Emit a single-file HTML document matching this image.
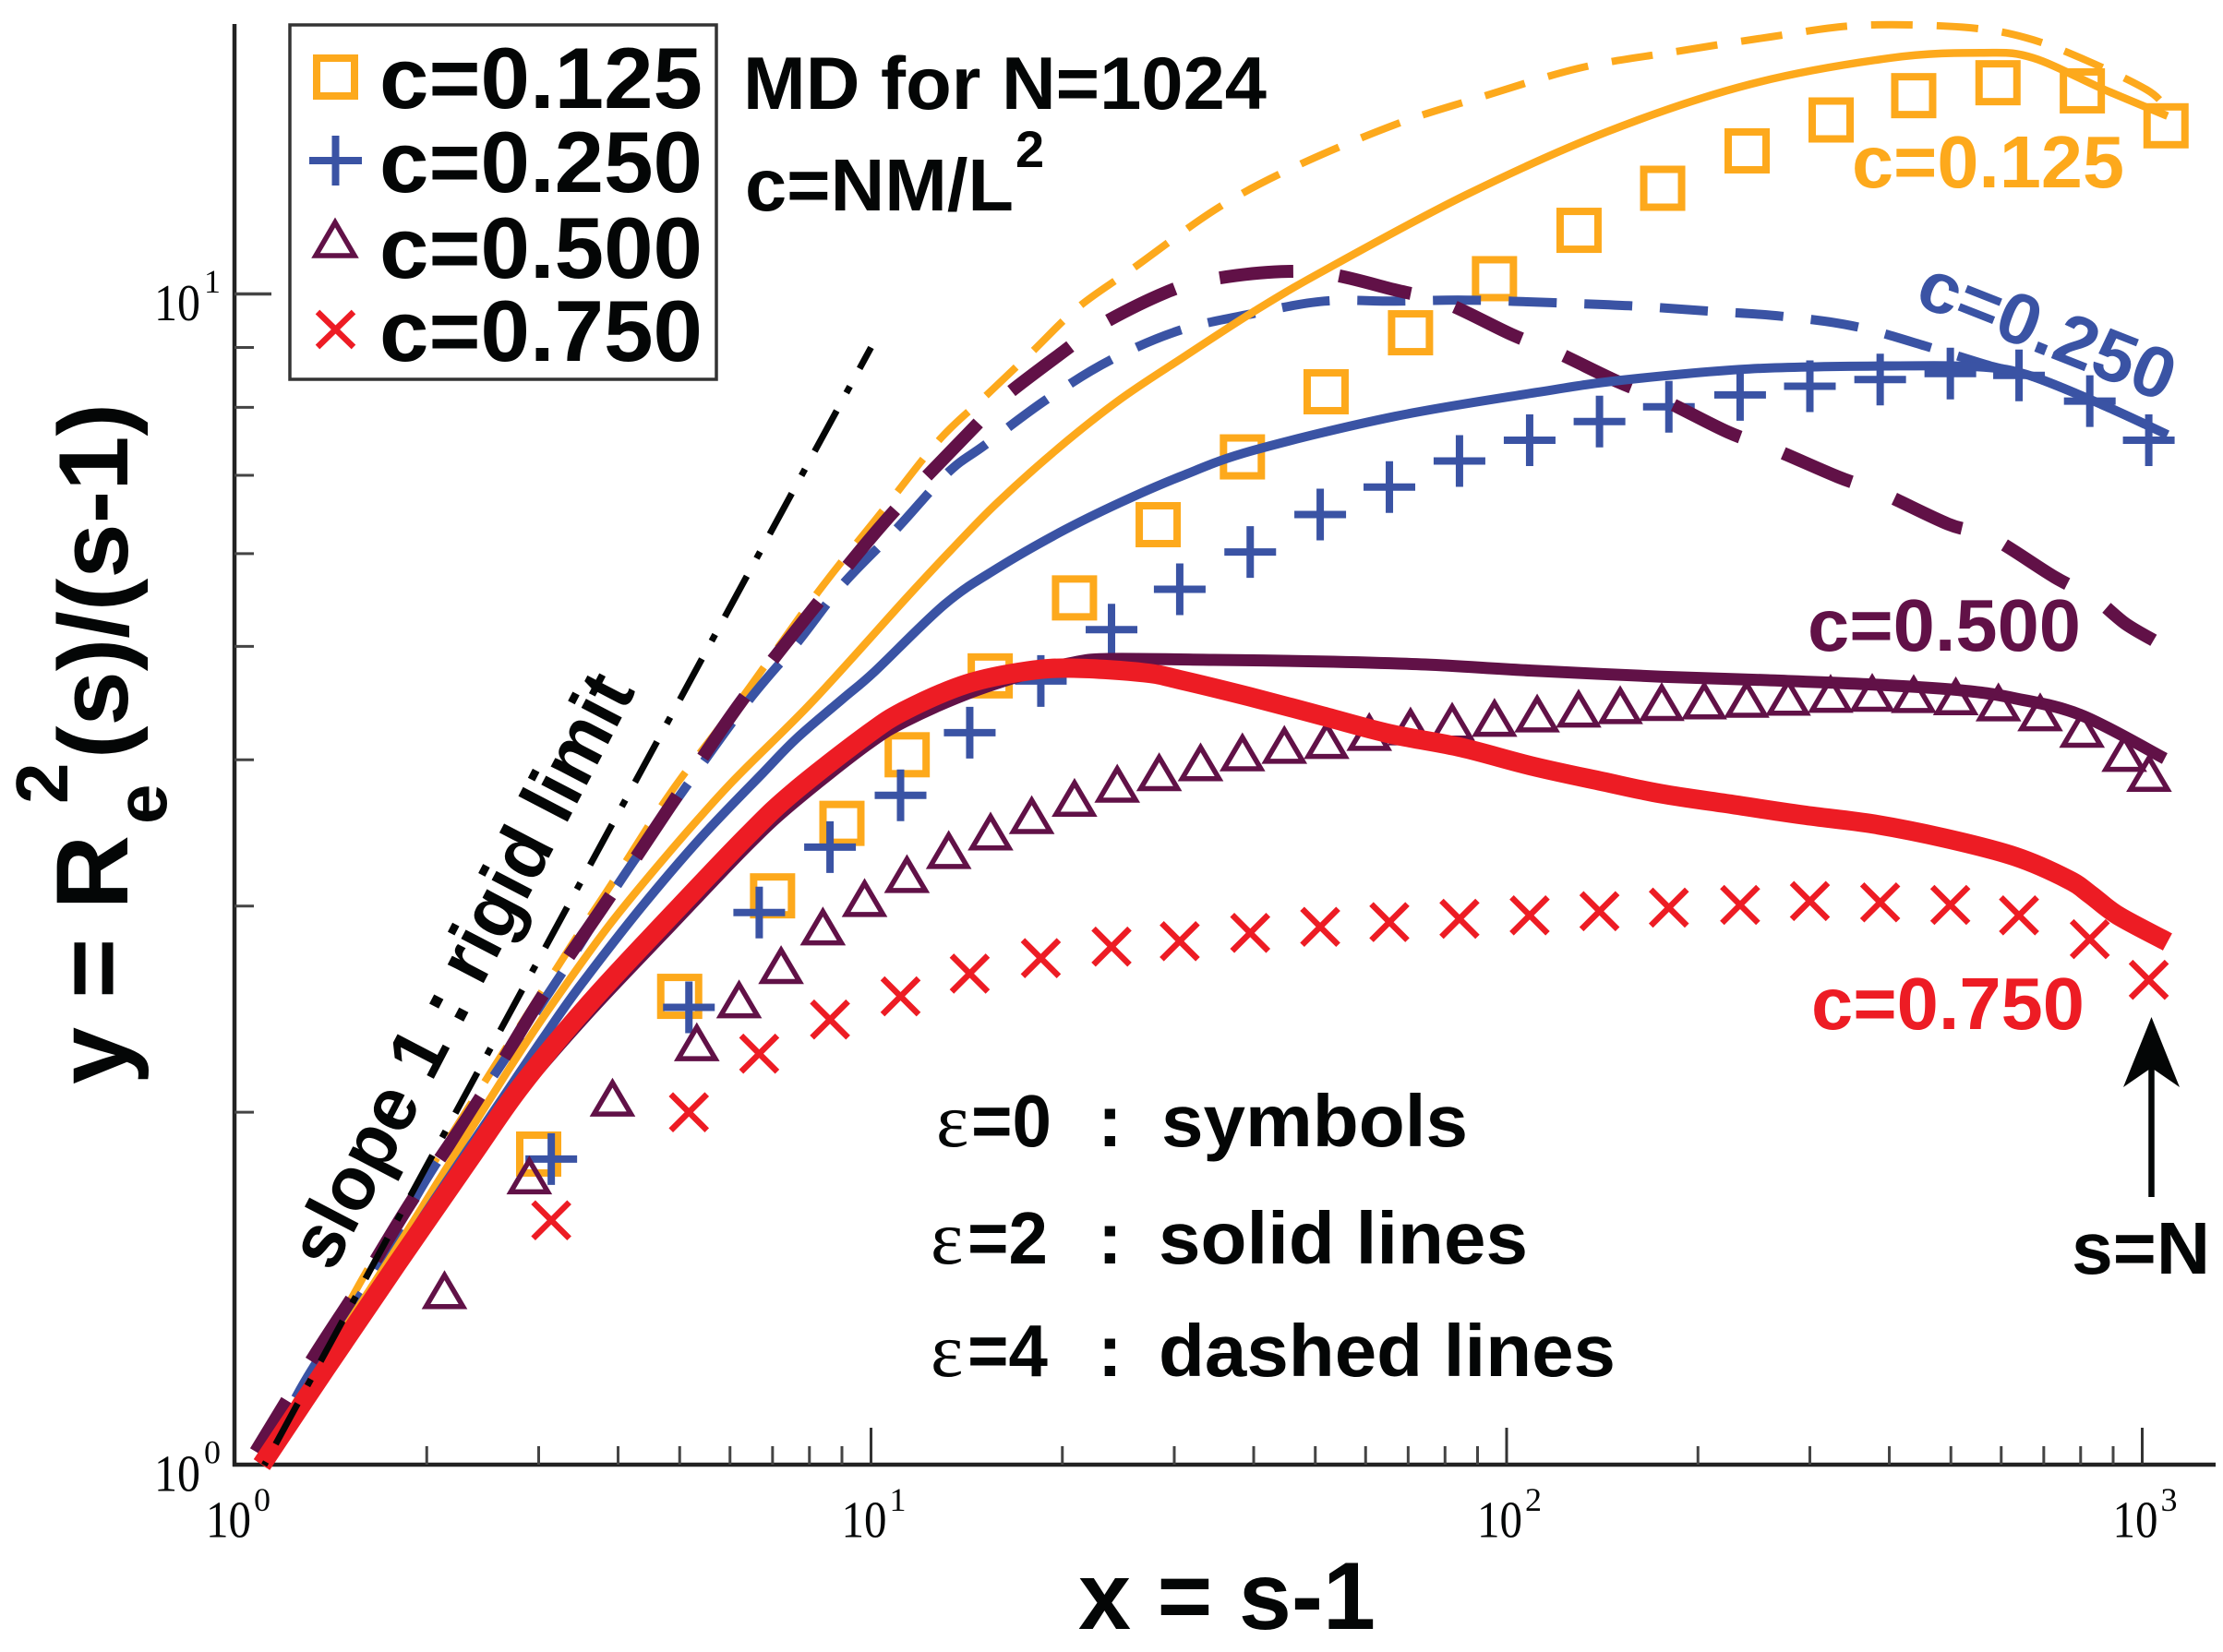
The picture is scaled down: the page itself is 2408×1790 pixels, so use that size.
<!DOCTYPE html>
<html lang="en">
<head>
<meta charset="utf-8">
<title>Re2(s)/(s-1) versus s-1</title>
<style>
html,body{margin:0;padding:0;background:#fff;width:2408px;height:1790px;overflow:hidden}
svg{display:block}
text{font-family:"Liberation Sans",sans-serif;font-weight:700;fill:#040606}
.serif{font-family:"Liberation Serif",serif;font-weight:400}
</style>
</head>
<body>
<svg id="chart" width="2408" height="1790" viewBox="0 0 2408 1790" xmlns="http://www.w3.org/2000/svg">
  <rect x="0" y="0" width="2408" height="1790" fill="#fff"/>
  <g id="axes"></g>
  <g id="markers"></g>
  <g id="lines"></g>

  <g>
    <rect x="314" y="27" width="462" height="384" fill="#fff" stroke="#333" stroke-width="3.5"/>
    <rect x="343" y="63" width="41" height="41" fill="none" stroke="#FDA91C" stroke-width="8"/>
    <path d="M335 174H392M363.500 147V201" fill="none" stroke="#3A53A4" stroke-width="8"/>
    <path d="M363 241L384 277H342Z" fill="none" stroke="#611147" stroke-width="5.500"/>
    <path d="M344 338L383 376M383 338L344 376" fill="none" stroke="#ED1C24" stroke-width="6.500"/>
    <text x="411" y="117" font-size="94" textLength="350" lengthAdjust="spacingAndGlyphs">c=0.125</text>
    <text x="411" y="208" font-size="94" textLength="350" lengthAdjust="spacingAndGlyphs">c=0.250</text>
    <text x="411" y="301" font-size="94" textLength="350" lengthAdjust="spacingAndGlyphs">c=0.500</text>
    <text x="411" y="391" font-size="94" textLength="350" lengthAdjust="spacingAndGlyphs">c=0.750</text>
  </g>

  <text x="805" y="118" font-size="81" textLength="567" lengthAdjust="spacingAndGlyphs">MD for N=1024</text>
  <text x="807" y="228" font-size="80" textLength="291" lengthAdjust="spacingAndGlyphs">c=NM/L</text>
  <text x="1100" y="181" font-size="56">2</text>

  <text x="2006" y="203" font-size="80" textLength="295" lengthAdjust="spacingAndGlyphs" style="fill:#FDA91C">c=0.125</text>
  <text font-size="78" textLength="292" lengthAdjust="spacingAndGlyphs" transform="translate(2072 329) rotate(21.5)" style="fill:#3A53A4">c=0.250</text>
  <text x="1958" y="705" font-size="80" textLength="296" lengthAdjust="spacingAndGlyphs" style="fill:#611147">c=0.500</text>
  <text x="1962" y="1115" font-size="80" textLength="296" lengthAdjust="spacingAndGlyphs" style="fill:#ED1C24">c=0.750</text>

  <text font-size="83" textLength="712" lengthAdjust="spacingAndGlyphs" transform="translate(360 1380) rotate(-62.5)">slope 1 : rigid limit</text>

  <g>
    <text class="serif" x="1014" y="1242" font-size="84">ε</text>
    <text x="1052" y="1242" font-size="80" textLength="87" lengthAdjust="spacingAndGlyphs">=0</text>
    <text x="1189" y="1242" font-size="80">:</text>
    <text x="1258" y="1242" font-size="80" textLength="332" lengthAdjust="spacingAndGlyphs">symbols</text>
    <text class="serif" x="1008" y="1369" font-size="84">ε</text>
    <text x="1048" y="1369" font-size="80" textLength="87" lengthAdjust="spacingAndGlyphs">=2</text>
    <text x="1189" y="1369" font-size="80">:</text>
    <text x="1255" y="1369" font-size="80" textLength="400" lengthAdjust="spacingAndGlyphs">solid lines</text>
    <text class="serif" x="1008" y="1491" font-size="84">ε</text>
    <text x="1048" y="1491" font-size="80" textLength="87" lengthAdjust="spacingAndGlyphs">=4</text>
    <text x="1189" y="1491" font-size="80">:</text>
    <text x="1255" y="1491" font-size="80" textLength="495" lengthAdjust="spacingAndGlyphs">dashed lines</text>
  </g>

  <g>
    <line x1="2330.500" y1="1297" x2="2330.500" y2="1150" stroke="#040606" stroke-width="6.500"/>
    <path d="M2330.500 1102L2361 1178L2330.500 1157L2300 1178Z" fill="#040606"/>
  </g>
  <text x="2244" y="1380" font-size="80" textLength="150" lengthAdjust="spacingAndGlyphs">s=N</text>

  <text x="1168" y="1765" font-size="104" textLength="322" lengthAdjust="spacingAndGlyphs">x = s-1</text>
  <g>
    <text font-size="110" textLength="270" lengthAdjust="spacingAndGlyphs" transform="translate(138 1175) rotate(-90)">y = R</text>
    <text font-size="78" transform="translate(180 893) rotate(-90)">e</text>
    <text font-size="80" transform="translate(73 871) rotate(-90)">2</text>
    <text font-size="107" textLength="385" lengthAdjust="spacingAndGlyphs" transform="translate(138 822) rotate(-90)">(s)/(s-1)</text>
  </g>
</svg>

<script>
// ---- axis ticks ----
var xMajorTicks = [1, 10, 100, 1000];
var xMinorTicks = [2,3,4,5,6,7,8,9,20,30,40,50,60,70,80,90,200,300,400,500,600,700,800,900];
var yMajorTicks = [1, 10];
var yMinorTicks = [2,3,4,5,6,7,8,9];
var xTickExponents = ['0','1','2','3'];
var yTickExponents = ['0','1'];

// ---- epsilon = 0 : symbols ----
var c125SymbolS = [3,5,7,9,11.4,15.4,20.9,28.3,38.4,52,70.6,95.7,130,176,239,324,437,593,805,1090];
var c125SymbolY = [1.842,2.512,3.061,3.53,4.04,4.718,5.5,6.352,7.258,8.25,9.265,10.305,11.333,12.31,13.25,14.08,14.77,15.15,14.91,13.92];

var c250SymbolS = [3.14,5.17,6.67,8.62,11.13,14.3,18.5,23.9,30.6,39.5,50.9,65.4,84.3,108.7,140,180,233,300,387,499,640,827,1024];
var c250SymbolY = [1.824,2.458,2.962,3.369,3.73,4.219,4.671,5.167,5.594,6.02,6.48,6.84,7.2,7.5,7.78,8.01,8.2,8.34,8.45,8.55,8.52,8.1,7.5];

var c500SymbolS = [2.133,2.9,3.92,5.32,6.2,7.22,8.4,9.77,11.39,13.25,15.42,17.9,20.9,24.4,28.4,33,38.4,44.7,52.1,60.8,70.6,82.1,95.7,111.7,129.8,150.9,175.4,204.6,238.6,277.3,323.4,376,437,509,594,691,804,937,1025];
var c500SymbolY = [1.41,1.767,2.059,2.296,2.498,2.672,2.883,3.049,3.196,3.351,3.475,3.589,3.713,3.818,3.905,3.982,4.061,4.121,4.16,4.227,4.273,4.313,4.346,4.383,4.425,4.456,4.483,4.497,4.511,4.53,4.556,4.565,4.554,4.534,4.48,4.393,4.253,4.056,3.9];

var c750SymbolS = [3.14,5.17,6.67,8.62,11.13,14.3,18.5,23.9,30.6,39.5,50.9,65.4,84.3,108.7,140,180,233,300,387,499,640,827,1024];
var c750SymbolY = [1.617,2,2.244,2.4,2.512,2.627,2.708,2.77,2.8,2.846,2.88,2.907,2.926,2.946,2.97,2.991,3.007,3.03,3.022,3.007,2.946,2.811,2.595];

// ---- epsilon = 2 : solid lines ----
var c125SolidS = [1.109,1.388,1.795,2.1,2.656,3.1,3.87,4.85,6.05,8.09,11.3,13.35,15.79,19.75,24.6,30.8,39.9,51.6,86.3,144,241,403,563,673,871,1096];
var c125SolidY = [1.004,1.232,1.532,1.756,2.151,2.442,2.887,3.35,3.831,4.486,5.48,6.04,6.63,7.39,8.12,8.81,9.65,10.47,12.15,13.76,15.1,15.91,16.07,15.91,14.95,14.19];

var c250SolidS = [1.109,1.388,1.795,2.052,2.71,3.07,3.47,4.33,5.41,6.77,7.64,9.03,10.12,13.05,15.79,19.75,24.6,30.8,39.9,66.7,111.7,152,241,403,563,673,871,1096];
var c250SolidY = [1.003,1.219,1.504,1.681,2.105,2.326,2.556,2.983,3.436,3.902,4.173,4.511,4.755,5.429,5.828,6.25,6.63,6.99,7.35,7.86,8.24,8.44,8.63,8.68,8.66,8.5,8.03,7.58];

var c500SolidS = [1.1,1.388,1.795,2.37,2.82,3.62,4.83,6.4,7.56,9.82,11.3,14.14,17.63,20.84,23.6,34.6,50.9,74.5,109.4,175,257.6,378,520,631,803,1085];
var c500SolidY = [1,1.208,1.483,1.844,2.09,2.442,2.881,3.381,3.676,4.113,4.312,4.553,4.738,4.843,4.878,4.869,4.854,4.825,4.767,4.711,4.678,4.638,4.585,4.514,4.366,4.01];

var c750SolidS = [1.1,1.388,1.795,2.37,2.82,3.62,4.83,6.4,7.56,9.82,11.3,14.14,17.63,20.84,26.95,30.8,39.3,50.9,65.6,84.9,109.4,141.6,175,226.5,292.5,378,488,631,765,828,917,1096];
var c750SolidY = [1,1.208,1.483,1.844,2.109,2.483,2.939,3.449,3.756,4.196,4.407,4.644,4.764,4.79,4.747,4.678,4.53,4.366,4.21,4.098,3.952,3.833,3.742,3.664,3.589,3.525,3.43,3.307,3.161,3.07,2.944,2.796];

// ---- epsilon = 4 : dashed lines ----
var c125DashedS = [1.109,1.586,2.073,3.245,3.914,4.85,6.25,8.22,10.39,12.79,15.11,17.87,21.19,25.8,35.1,46.7,66.7,89.7,130,179.6,260,359,521,657,817,1015,1085];
var c125DashedY = [1.004,1.443,1.827,2.685,3.138,3.756,4.511,5.548,6.51,7.5,8.17,8.91,9.74,10.51,11.84,12.86,13.95,14.69,15.59,16.07,16.58,16.96,16.9,16.55,15.83,14.95,14.47];

var c250DashedS = [1.109,1.285,1.679,2.03,3.245,4.01,5.11,6.4,7.64,9.03,11,13.22,15.11,18.85,23.8,30.6,39.9,51.6,66.7,86.3,117.4,156,207,271,354,464,577,673,871,1096];
var c250DashedY = [1.004,1.177,1.475,1.778,2.617,3.138,3.79,4.486,5.03,5.65,6.31,7.04,7.43,8.12,8.78,9.31,9.62,9.86,9.86,9.88,9.83,9.77,9.67,9.57,9.38,9,8.68,8.5,8.03,7.58];

var c500DashedS = [1.076,1.329,1.586,1.9,2.426,3.035,3.87,4.9,6.25,8.17,10.67,14.42,16.22,20.15,22.96,29.1,34.2,44.2,53,66.7,79.9,102,119,150,177,223,260,332,387,495,577,728,839,940,1042];
var c500DashedY = [1.026,1.237,1.435,1.684,2.056,2.51,3.048,3.695,4.486,5.41,6.45,7.66,8.17,8.94,9.41,10.03,10.29,10.45,10.39,10.08,9.83,9.23,8.93,8.41,8.11,7.62,7.39,6.98,6.77,6.36,6.2,5.73,5.5,5.23,5.06];

// ---- slope 1 reference ----
var rigidLimitS = [1.11, 10];
var rigidLimitY = [0.999, 9];

// ---- axis functions ----
function xp(v){ return 255 + 688.5 * Math.log10(v); }
function yp(v){ return 1587 - 1268.5 * Math.log10(v); }

var NS = 'http://www.w3.org/2000/svg';
function mk(tag, parent, attrs){
  var el = document.createElementNS(NS, tag);
  for (var k in attrs) el.setAttribute(k, attrs[k]);
  parent.appendChild(el);
  return el;
}

function smoothPath(sArr, yArr){
  var p = [];
  for (var i = 0; i < sArr.length; i++) p.push([xp(sArr[i]), yp(yArr[i])]);
  if (p.length < 3) return 'M' + p.map(function(q){return q[0].toFixed(1)+' '+q[1].toFixed(1);}).join('L');
  var d = 'M' + p[0][0].toFixed(1) + ' ' + p[0][1].toFixed(1);
  for (var j = 0; j < p.length - 1; j++){
    var a = p[Math.max(j-1,0)], b = p[j], c = p[j+1], e = p[Math.min(j+2,p.length-1)];
    var c1x = b[0] + (c[0]-a[0])/6, c1y = b[1] + (c[1]-a[1])/6;
    var c2x = c[0] - (e[0]-b[0])/6, c2y = c[1] - (e[1]-b[1])/6;
    d += 'C' + c1x.toFixed(1)+' '+c1y.toFixed(1)+' '+c2x.toFixed(1)+' '+c2y.toFixed(1)+' '+c[0].toFixed(1)+' '+c[1].toFixed(1);
  }
  return d;
}

// ---- draw axes ----
var axes = document.getElementById('axes');
var axisX = mk('line', axes, {x1:252, y1:1587, x2:2400, y2:1587, stroke:'#222', 'stroke-width':4.5});


var axisY = mk('line', axes, {x1:254, y1:26, x2:254, y2:1589, stroke:'#222', 'stroke-width':4.5});



xMajorTicks.forEach(function(v, i){
  var x = xp(v);
  if (i > 0){
    var t = mk('line', axes, {x1:x, y1:1587, x2:x, y2:1547, stroke:'#333', 'stroke-width':3});
    
    
  }
  var lab = mk('text', axes, {x:x-32, y:1665.5, 'font-size':56, 'class':'serif', textLength:49, lengthAdjust:'spacingAndGlyphs'});
  lab.textContent = '10';
  
  
  var sup = mk('text', axes, {x:x+20, y:1637, 'font-size':36, 'class':'serif'});
  sup.textContent = xTickExponents[i];
  
  
});
xMinorTicks.forEach(function(v){
  var x = xp(v);
  var t = mk('line', axes, {x1:x, y1:1587, x2:x, y2:1567, stroke:'#444', 'stroke-width':3});
  
  
});
yMajorTicks.forEach(function(v, i){
  var y = yp(v);
  if (i > 0){
    var t = mk('line', axes, {x1:254, y1:y, x2:294, y2:y, stroke:'#444', 'stroke-width':3.5});
    
    
  }
  var lab = mk('text', axes, {x:167, y:y+28.5, 'font-size':56, 'class':'serif', textLength:50, lengthAdjust:'spacingAndGlyphs'});
  lab.textContent = '10';
  
  
  var sup = mk('text', axes, {x:221, y:y-1.5, 'font-size':36, 'class':'serif'});
  sup.textContent = yTickExponents[i];
  
  
});
yMinorTicks.forEach(function(v){
  var y = yp(v);
  var t = mk('line', axes, {x1:254, y1:y, x2:275, y2:y, stroke:'#444', 'stroke-width':3});
  
  
});

// ---- draw symbols ----
var markers = document.getElementById('markers');

c125SymbolS.forEach(function(s, i){
  var x = xp(s), y = yp(c125SymbolY[i]);
  var m = mk('rect', markers, {x:x-20.5, y:y-20.5, width:41, height:41, fill:'none', stroke:'#FDA91C', 'stroke-width':8});
  
  
});
c250SymbolS.forEach(function(s, i){
  var x = xp(s), y = yp(c250SymbolY[i]);
  var d = 'M'+(x-28)+' '+y+'H'+(x+28)+'M'+x+' '+(y-28)+'V'+(y+28);
  var m = mk('path', markers, {d:d, fill:'none', stroke:'#3A53A4', 'stroke-width':8});
  
  
});
c500SymbolS.forEach(function(s, i){
  var x = xp(s), y = yp(c500SymbolY[i]);
  var d = 'M'+x+' '+(y-16)+'L'+(x+20)+' '+(y+18)+'H'+(x-20)+'Z';
  var m = mk('path', markers, {d:d, fill:'none', stroke:'#611147', 'stroke-width':5.5});
  
  
});
c750SymbolS.forEach(function(s, i){
  var x = xp(s), y = yp(c750SymbolY[i]);
  var d = 'M'+(x-19.5)+' '+(y-19.5)+'L'+(x+19.5)+' '+(y+19.5)+'M'+(x+19.5)+' '+(y-19.5)+'L'+(x-19.5)+' '+(y+19.5);
  var m = mk('path', markers, {d:d, fill:'none', stroke:'#ED1C24', 'stroke-width':6.5});
  
  
});

// ---- draw lines ----
var lines = document.getElementById('lines');

var dash125 = mk('path', lines, {d:smoothPath(c125DashedS, c125DashedY), fill:'none', stroke:'#FDA91C', 'stroke-width':8, 'stroke-dasharray':'45 26', 'stroke-dashoffset':20});



var dash250 = mk('path', lines, {d:smoothPath(c250DashedS, c250DashedY), fill:'none', stroke:'#3A53A4', 'stroke-width':10, 'stroke-dasharray':'52 30', 'stroke-dashoffset':4});



var dash500 = mk('path', lines, {d:smoothPath(c500DashedS, c500DashedY), fill:'none', stroke:'#611147', 'stroke-width':14, 'stroke-dasharray':'80 50', 'stroke-dashoffset':15});



var solid125 = mk('path', lines, {d:smoothPath(c125SolidS, c125SolidY), fill:'none', stroke:'#FDA91C', 'stroke-width':8.5});



var solid250 = mk('path', lines, {d:smoothPath(c250SolidS, c250SolidY), fill:'none', stroke:'#3A53A4', 'stroke-width':10});



var solid500 = mk('path', lines, {d:smoothPath(c500SolidS, c500SolidY), fill:'none', stroke:'#611147', 'stroke-width':13});



var solid750 = mk('path', lines, {d:smoothPath(c750SolidS, c750SolidY), fill:'none', stroke:'#ED1C24', 'stroke-width':21});



var rigid = mk('path', lines, {d:smoothPath(rigidLimitS, rigidLimitY), fill:'none', stroke:'#040606', 'stroke-width':7, 'stroke-dasharray':'8 22 50 22', 'stroke-dashoffset':4});


</script>
</body>
</html>
